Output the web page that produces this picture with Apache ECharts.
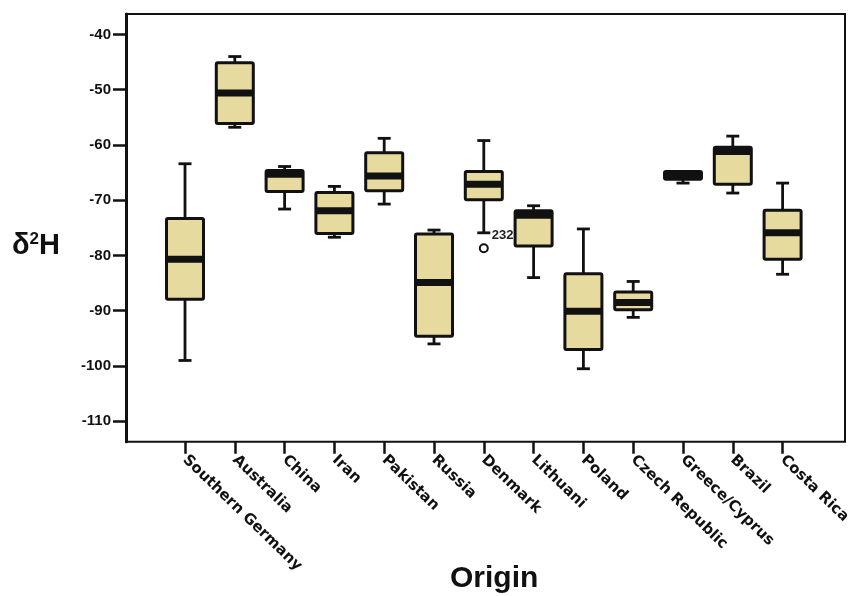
<!DOCTYPE html>
<html>
<head>
<meta charset="utf-8">
<script src="https://cdn.jsdelivr.net/npm/echarts@6/dist/echarts.min.js"></script>
<style>
html, body { margin: 0; padding: 0; background: #fff; }
#chart { width: 849px; height: 596px; }
</style>
</head>
<body>
<div id="chart"></div>
<script>
// box plot of d2H by origin
var categories = ['Southern Germany', 'Australia', 'China', 'Iran', 'Pakistan', 'Russia',
    'Denmark', 'Lithuani', 'Poland', 'Czech Republic', 'Greece/Cyprus', 'Brazil', 'Costa Rica'];
var whiskerHigh = [-63.4, -44.0, -63.9, -67.5, -58.8, -75.4, -59.2, -71.0, -75.2, -84.7, -64.8, -58.4, -66.9];
var q3 =          [-73.3, -45.1, -64.6, -68.6, -61.4, -76.1, -64.8, -71.9, -83.3, -86.6, -64.8, -60.4, -71.8];
var medians =     [-80.7, -50.6, -65.3, -71.9, -65.6, -84.9, -67.1, -72.7, -90.1, -88.5, -65.5, -61.2, -75.9];
var q1 =          [-87.9, -56.1, -68.4, -76.0, -68.3, -94.6, -69.9, -78.3, -97.0, -89.8, -66.2, -67.1, -80.7];
var whiskerLow =  [-99.0, -56.8, -71.6, -76.7, -70.7, -96.0, -75.9, -84.0, -100.5, -91.2, -66.9, -68.7, -83.4];
var outliers = [[6, -78.7]];
var outlierLabels = ['232'];
var yTicks = [-110, -100, -90, -80, -70, -60, -50, -40];
var yMin = -113.7;
var yMax = -36.3;

var boxData = [];
for (var i = 0; i < categories.length; i++) {
    boxData.push([i, whiskerLow[i], q1[i], medians[i], q3[i], whiskerHigh[i]]);
}

var INK = '#111';
var FILL = '#e6da9e';

function renderBox(params, api)
{
    var x = api.value(0);
    var lo = api.coord([x, api.value(1)]);
    var b1 = api.coord([x, api.value(2)]);
    var md = api.coord([x, api.value(3)]);
    var b3 = api.coord([x, api.value(4)]);
    var hi = api.coord([x, api.value(5)]);
    var bw = 37;
    var cap = 13;
    var cx = lo[0];
    var line = {stroke: INK, lineWidth: 2.8};
    return {
        type: 'group',
        children: [
            {type: 'line', shape: {x1: cx, y1: hi[1], x2: cx, y2: b3[1]}, style: line},
            {type: 'line', shape: {x1: cx - cap / 2, y1: hi[1], x2: cx + cap / 2, y2: hi[1]}, style: line},
            {type: 'line', shape: {x1: cx, y1: b1[1], x2: cx, y2: lo[1]}, style: line},
            {type: 'line', shape: {x1: cx - cap / 2, y1: lo[1], x2: cx + cap / 2, y2: lo[1]}, style: line},
            {type: 'rect', shape: {x: cx - bw / 2, y: b3[1], width: bw, height: b1[1] - b3[1], r: 1.5},
                style: {fill: FILL, stroke: INK, lineWidth: 3}},
            {type: 'rect', shape: {x: cx - bw / 2, y: md[1] - 3.5, width: bw, height: 7},
                style: {fill: INK}}
        ]
    };
}

var chart = echarts.init(document.getElementById('chart'));
var option = {
    animation: false,
    backgroundColor: '#fff',
    title: [
        {
            text: 'Origin', left: 450, top: 564, padding: 0,
            textStyle: {fontFamily: 'Liberation Sans', fontWeight: 'bold', fontSize: 30, color: INK}
        },
        {
            text: '{a|δ}{s|2}{a|H}', left: 12, top: 231, padding: 0,
            textStyle: {
                rich: {
                    a: {fontFamily: 'Liberation Sans', fontWeight: 'bold', fontSize: 29, color: INK, lineHeight: 30},
                    s: {fontFamily: 'Liberation Sans', fontWeight: 'bold', fontSize: 17, color: INK, verticalAlign: 'top', lineHeight: 30}
                }
            }
        }
    ],
    grid: [
        {left: 160.1, right: 41.5, top: 14, bottom: 154.3, show: false, outerBoundsMode: 'none'},
        {left: 126, right: 4, top: 14, bottom: 154.3, show: true, outerBoundsMode: 'none',
            borderColor: INK, borderWidth: 2, backgroundColor: 'transparent'}
    ],
    xAxis: [
        {
            type: 'category', gridIndex: 0, data: categories,
            axisLine: {show: false},
            axisTick: {show: true, alignWithLabel: true, length: 12, lineStyle: {color: INK, width: 2.5}},
            axisLabel: {
                interval: 0, rotate: -44, margin: 16, color: INK,
                fontFamily: 'DejaVu Sans', fontWeight: 'bold', fontSize: 15
            },
            splitLine: {show: false}
        },
        {
            type: 'value', gridIndex: 1, min: 0, max: 1,
            axisLine: {show: false}, axisTick: {show: false}, axisLabel: {show: false}, splitLine: {show: false}
        }
    ],
    yAxis: [
        {
            type: 'value', gridIndex: 0, min: yMin, max: yMax,
            axisLine: {show: false}, axisTick: {show: false}, axisLabel: {show: false}, splitLine: {show: false}
        },
        {
            type: 'value', gridIndex: 1, min: yMin, max: yMax,
            axisLine: {show: true, lineStyle: {color: INK, width: 3}},
            axisTick: {show: true, length: 13, customValues: yTicks, lineStyle: {color: INK, width: 2.5}},
            axisLabel: {
                customValues: yTicks, margin: 15, color: INK,
                fontFamily: 'Liberation Sans', fontWeight: 'bold', fontSize: 15
            },
            splitLine: {show: false}
        }
    ],
    series: [
        {
            type: 'custom', xAxisIndex: 0, yAxisIndex: 0,
            renderItem: renderBox,
            encode: {x: 0, y: [1, 2, 3, 4, 5]},
            data: boxData
        },
        {
            type: 'scatter', xAxisIndex: 0, yAxisIndex: 0,
            symbol: 'circle', symbolSize: 8,
            itemStyle: {color: '#fff', borderColor: INK, borderWidth: 2, opacity: 1},
            label: {
                show: true, position: 'right', offset: [-2, -13],
                formatter: function(p) { return outlierLabels[p.dataIndex]; },
                fontFamily: 'Liberation Sans', fontWeight: 'bold', fontSize: 13, color: '#222'
            },
            data: outliers
        }
    ]
};
chart.setOption(option);
</script>
</body>
</html>
